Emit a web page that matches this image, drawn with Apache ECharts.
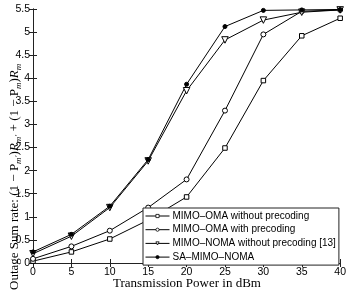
<!DOCTYPE html>
<html><head><meta charset="utf-8">
<script src="https://cdn.jsdelivr.net/npm/echarts@6/dist/echarts.min.js"></script>
<style>html,body{margin:0;padding:0;background:#fff}#c{width:349px;height:291px}</style>
</head><body><div id="c"></div>
<script>
const xValues = [0, 5, 10, 15, 20, 25, 30, 35, 40];
const omaNoPrec = [0.04, 0.24, 0.52, 0.93, 1.43, 2.49, 3.95, 4.92, 5.30];
const omaPrec = [0.09, 0.36, 0.70, 1.20, 1.81, 3.30, 4.95, 5.45, 5.48];
const nomaNoPrec = [0.20, 0.58, 1.20, 2.21, 3.73, 4.83, 5.26, 5.43, 5.48];
const saNoma = [0.24, 0.62, 1.23, 2.24, 3.87, 5.12, 5.47, 5.48, 5.49];
const seriesNames = ['MIMO–OMA without precoding', 'MIMO–OMA with precoding', 'MIMO–NOMA without precoding [13]', 'SA–MIMO–NOMA'];

const chart = echarts.init(document.getElementById('c'));
const pair = arr => xValues.map((x, i) => [x, arr[i]]);
const mk = (name, data, symbol, size, fill) => ({
  name, type: 'line', data: pair(data), symbol, symbolSize: size,
  lineStyle: {color: '#000', width: 1}, itemStyle: {color: fill, borderColor: '#000', borderWidth: 1},
  emphasis: {disabled: true}, animation: false, z: 3
});
const tri = 'path://M0,0 L10,0 L5,9 Z';
const axisCommon = {
  min: 0, axisLine: {show: true, lineStyle: {color: '#222', width: 1}},
  axisTick: {show: true, inside: true, length: 4, lineStyle: {color: '#222'}},
  splitLine: {show: false}
};
chart.setOption({
  animation: false,
  grid: {left: 33, right: 8, top: 9, bottom: 28, containLabel: false},
  xAxis: [
    Object.assign({type: 'value', max: 40, interval: 5, position: 'bottom',
      axisLabel: {color: '#000', fontSize: 10.5, fontFamily: 'Liberation Sans', margin: 4}}, axisCommon),
    Object.assign({type: 'value', max: 40, interval: 5, position: 'top', axisLabel: {show: false}}, axisCommon)
  ],
  yAxis: [
    Object.assign({type: 'value', max: 5.5, interval: 0.5, position: 'left',
      axisLabel: {color: '#000', fontSize: 10.5, fontFamily: 'Liberation Sans', margin: 3}}, axisCommon),
    Object.assign({type: 'value', max: 5.5, interval: 0.5, position: 'right', axisLabel: {show: false}}, axisCommon)
  ],
  legend: {
    orient: 'vertical', left: 143, top: 208,
    backgroundColor: '#fff', borderColor: '#222', borderWidth: 1, borderRadius: 0,
    padding: [2, 3, 2, 2], itemGap: 1.7, itemWidth: 24, itemHeight: 4,
    lineStyle: {width: 1, color: '#000'},
    itemStyle: {borderWidth: 0.8, borderColor: '#000'},
    textStyle: {color: '#000', fontSize: 10, fontFamily: 'Liberation Sans', padding: [0, 0, 0, -2], lineHeight: 12},
    data: seriesNames
  },
  series: [
    mk(seriesNames[0], omaNoPrec, 'rect', 4.5, '#fff'),
    mk(seriesNames[1], omaPrec, 'circle', 5, '#fff'),
    mk(seriesNames[2], nomaNoPrec, tri, 6.5, '#fff'),
    mk(seriesNames[3], saNoma, 'circle', 4, '#000')
  ],
  graphic: [
    {type: 'text', x: 187, y: 284, style: {text: 'Transmission Power in dBm', font: '13px "Liberation Serif"', fill: '#000', align: 'center', verticalAlign: 'middle'}},
    {type: 'text', x: 15, y: 290, rotation: Math.PI / 2, style: {
      text: '{a|Outage Sum rate: (1 − P}{s|m′}{a|)}{i|R}{s|m′}{a| + (1 − P}{s|m}{a|)}{i|R}{s|m}',
      align: 'left', verticalAlign: 'middle', fill: '#000',
      rich: {
        a: {font: '13px "Liberation Serif"', fill: '#000', lineHeight: 16, verticalAlign: 'middle'},
        i: {font: 'italic 13px "Liberation Serif"', fill: '#000', lineHeight: 16, verticalAlign: 'middle'},
        s: {font: 'italic 9px "Liberation Serif"', fill: '#000', lineHeight: 16, verticalAlign: 'bottom'}
      }
    }}
  ]
});
</script></body></html>
